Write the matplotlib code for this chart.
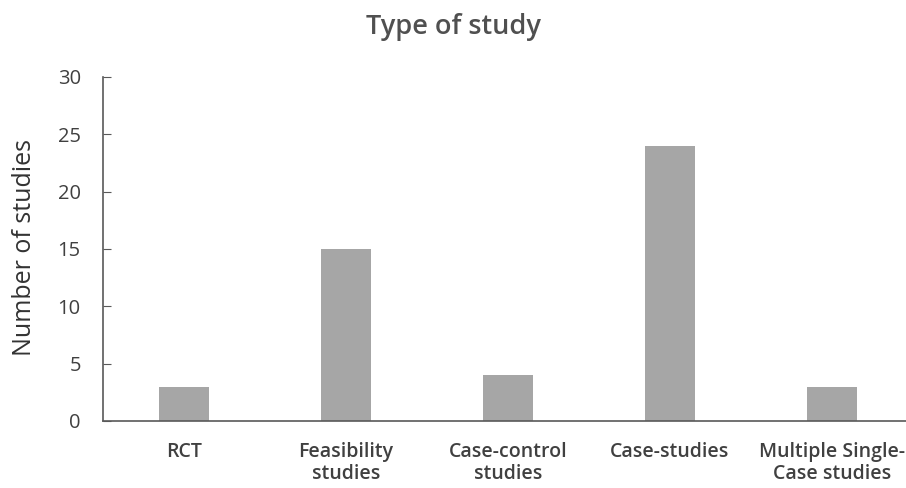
import matplotlib
matplotlib.use("Agg")
import matplotlib.pyplot as plt

categories = ["RCT", "Feasibility\nstudies", "Case-control\nstudies", "Case-studies", "Multiple Single-\nCase studies"]
values = [3, 15, 4, 24, 3]
yticks = [0, 5, 10, 15, 20, 25, 30]

plt.rcParams['font.family'] = ['Open Sans', 'DejaVu Sans']
txt = '#404040'

fig = plt.figure(figsize=(9.06, 4.88), dpi=100)
ax = fig.add_axes([103/906, 67/488, 810/906, 344/488])
x = list(range(len(categories)))
ax.bar(x, values, width=0.31, color='#a6a6a6')
ax.set_xlim(-0.5, len(categories) - 0.5)
ax.set_ylim(0, 30)
ax.set_yticks(yticks)
ax.set_xticks(x)
ax.set_xticklabels(categories, fontweight='semibold', fontsize=14, color=txt, linespacing=1.15)
ax.tick_params(axis='x', length=0, pad=15)
ax.tick_params(axis='y', direction='in', length=6, color='#595959', labelsize=14.5, labelcolor=txt, pad=16)
for s in ['top', 'right']:
    ax.spines[s].set_visible(False)
for s in ['left', 'bottom']:
    ax.spines[s].set_color('#595959')
    ax.spines[s].set_linewidth(1.2)
ax.set_ylabel("Number of studies", fontsize=18, color='#333333')
ax.yaxis.set_label_coords(-0.081, 0.505)
fig.text(0.5, 0.944, "Type of study", ha='center', va='center', fontsize=19.5, fontweight='semibold', color='#505050')
fig.savefig("out.png", dpi=100)
